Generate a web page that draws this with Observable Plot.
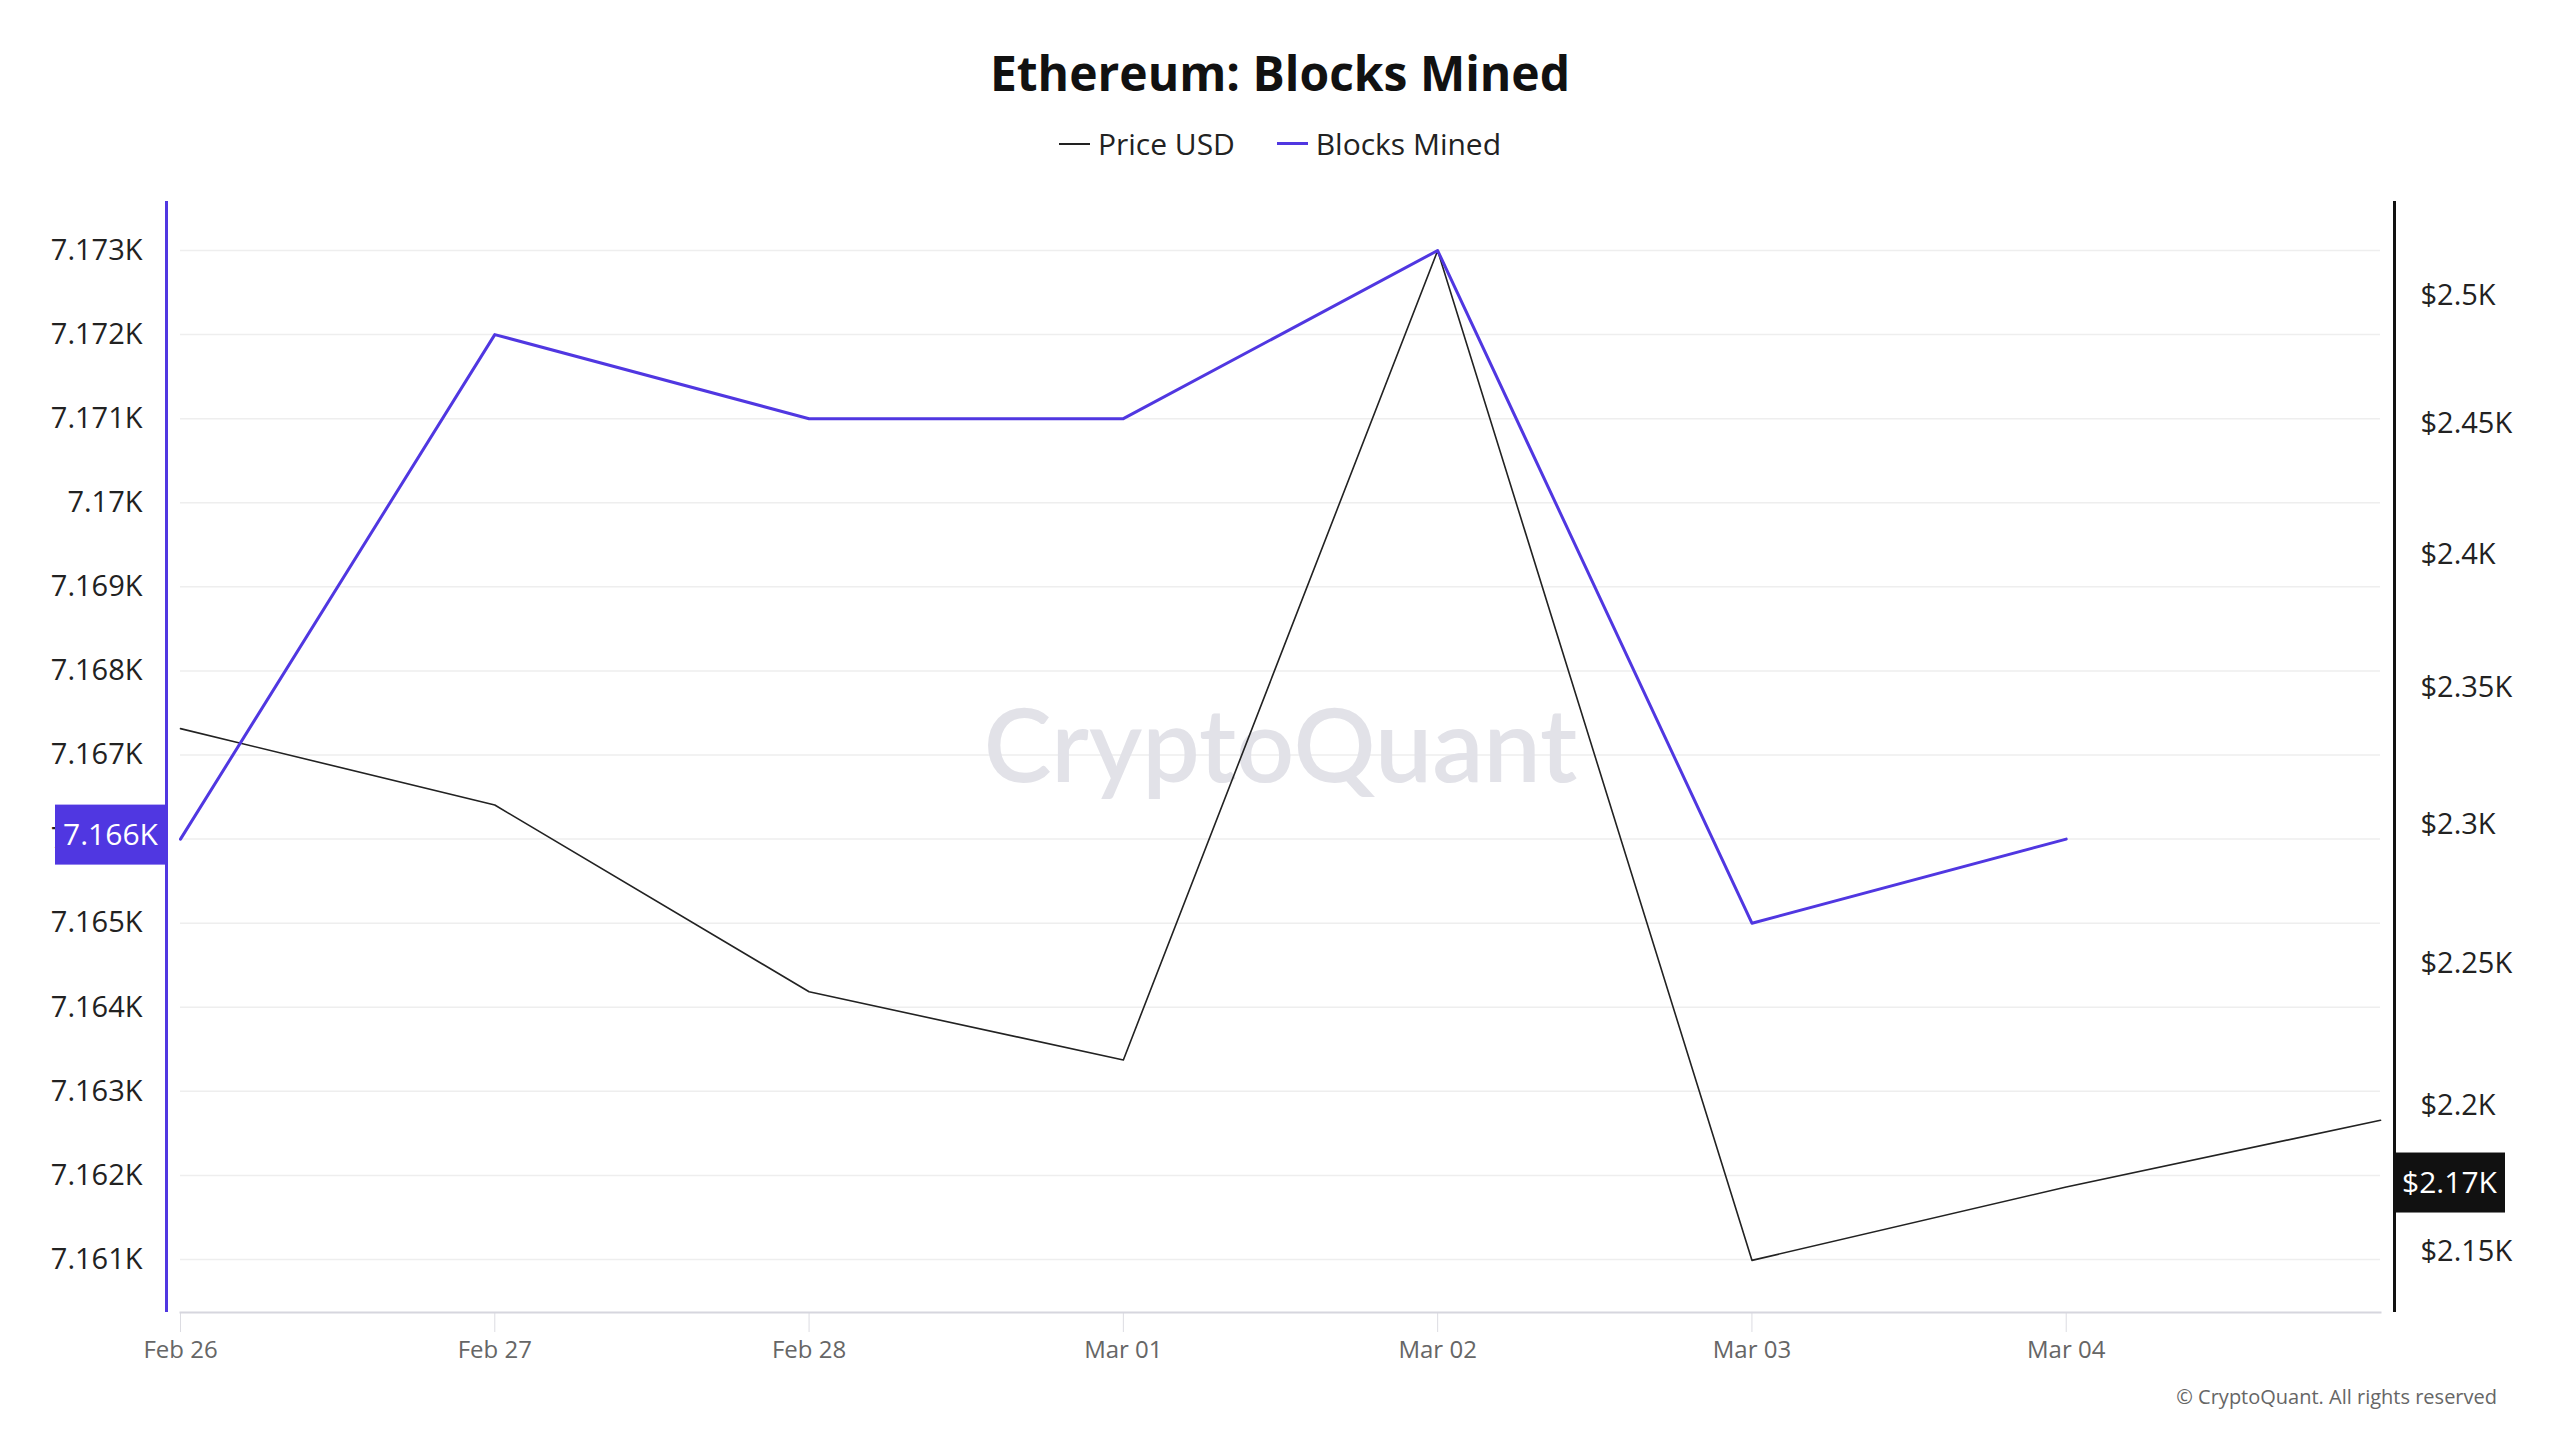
<!DOCTYPE html>
<html>
<head>
<meta charset="utf-8">
<script src="https://cdn.jsdelivr.net/npm/d3@7"></script>
<script src="https://cdn.jsdelivr.net/npm/@observablehq/plot@0.6"></script>
<style>
  body { margin: 0; background: #fff; font-family: "Open Sans", sans-serif; width: 2560px; height: 1440px; overflow: hidden; position: relative; }
  #header { height: 180px; position: relative; }
  #title { position: absolute; left: 0; width: 2560px; top: 43px; line-height: 60px; text-align: center; font-size: 48px; font-weight: 700; color: #111; }
  #legend { position: absolute; left: 0; width: 2560px; top: 124px; line-height: 40px; text-align: center; font-size: 30px; color: #222; }
  .item { display: inline-flex; align-items: center; margin: 0 17px; }
  .sw { display: inline-block; width: 31px; margin-right: 8px; }
  #caption { position: absolute; right: 63px; top: 1383px; font-size: 20px; color: #666; }
</style>
</head>
<body>
<div id="header">
  <div id="title">Ethereum: Blocks Mined</div>
  <div id="legend" style="top:114px">
    <span class="item"><span class="sw" style="border-top:2px solid #222"></span>Price USD</span>
    <span class="item"><span class="sw" style="border-top:3px solid #5037e1"></span>Blocks Mined</span>
  </div>
</div>
<div id="chart"></div>
<div id="caption">© CryptoQuant. All rights reserved</div>
<script>
// ---- data ----
const blockDates = ["2025-02-26", "2025-02-27", "2025-02-28", "2025-03-01", "2025-03-02", "2025-03-03", "2025-03-04"];
const blocksMined = [7166, 7172, 7171, 7171, 7173, 7165, 7166];
const priceDates = ["2025-02-26", "2025-02-27", "2025-02-28", "2025-03-01", "2025-03-02", "2025-03-03", "2025-03-04", "2025-03-05"];
const priceUSD = [2335, 2307, 2240, 2216, 2518, 2147, 2172, 2195];
const xTickDates = ["2025-02-26", "2025-02-27", "2025-02-28", "2025-03-01", "2025-03-02", "2025-03-03", "2025-03-04"];
const blockTicks = [7161, 7162, 7163, 7164, 7165, 7166, 7167, 7168, 7169, 7170, 7171, 7172, 7173];
const priceTicks = [2150, 2200, 2250, 2300, 2350, 2400, 2450, 2500];

const PURPLE = "#5037e1";
const parse = s => new Date(s + "T00:00:00Z");

const blocksData = blockDates.map((d, i) => ({date: parse(d), value: blocksMined[i]}));
const yDomain = [7160.37, 7173.583];
const priceToY = d3.scaleLog().domain([2129.4, 2537.6]).range(yDomain);
const priceData = priceDates.map((d, i) => ({date: parse(d), price: priceUSD[i], y: priceToY(priceUSD[i])}));

const xDomain = [parse(priceDates[0]), parse(priceDates[priceDates.length - 1])];

function tag(value, label, side, fill) {
  return (index, scales, values, dimensions) => {
    const {marginLeft, marginRight, width} = dimensions;
    const y = scales.y(value) - 4;
    const w = 111, h = 60;
    const x0 = side === "left" ? marginLeft - 14 - w : width - marginRight + 14;
    const g = d3.create("svg:g");
    g.append("rect").attr("x", x0).attr("y", y - h / 2).attr("width", w).attr("height", h).attr("fill", fill);
    g.append("text").attr("x", x0 + w / 2).attr("y", y).attr("dy", "0.35em")
      .attr("text-anchor", "middle").attr("fill", "#fff").attr("font-size", 30)
      .attr("font-family", "Open Sans, sans-serif").text(label);
    return g.node();
  };
}

const lastBlocks = blocksMined[blocksMined.length - 1];
const lastPriceIdx = blockDates.length - 1;
const lastPrice = priceUSD[lastPriceIdx];

const chart = Plot.plot({
  width: 2560,
  height: 1260,
  marginTop: 21,
  marginBottom: 128,
  marginLeft: 180,
  marginRight: 180,
  style: {fontFamily: "Open Sans, sans-serif", background: "#fff", overflow: "visible"},
  x: {type: "utc", domain: xDomain},
  y: {domain: yDomain},
  marks: [
    Plot.gridY(blockTicks, {stroke: "#eeeeee", strokeOpacity: 1, strokeWidth: 1.5}),
    Plot.text(["CryptoQuant"], {frameAnchor: "middle", fontSize: 102, fontWeight: 600, fill: "#e2e2e8", dy: -8, fontFamily: "Lato, sans-serif"}),
    Plot.axisY(blockTicks, {anchor: "left", tickSize: 0, tickPadding: 38, fontSize: 29, fill: "#222", tickFormat: d => d3.format("")(d / 1000) + "K"}),
    Plot.axisY(priceTicks.map(p => priceToY(p)), {anchor: "right", tickSize: 0, tickPadding: 40, fontSize: 29, fill: "#222",
      tickFormat: d => "$" + (Math.round(priceToY.invert(d) / 10) * 10 / 1000) + "K"}),
    Plot.axisX(xTickDates.map(parse), {anchor: "bottom", tickSize: 20, tickPadding: 8, stroke: "#dcdce2", fontSize: 24, fill: "#666", tickFormat: d3.utcFormat("%b %d")}),
    Plot.frame({anchor: "bottom", stroke: "#d6d6de", strokeWidth: 2}),
    Plot.ruleX([xDomain[0]], {dx: -14, stroke: PURPLE, strokeWidth: 3}),
    Plot.ruleX([xDomain[1]], {dx: 14, stroke: "#111", strokeWidth: 3}),
    Plot.line(priceData, {x: "date", y: "y", stroke: "#222", strokeWidth: 1.6}),
    Plot.line(blocksData, {x: "date", y: "value", stroke: PURPLE, strokeWidth: 3}),
    tag(lastBlocks, d3.format("")(lastBlocks / 1000) + "K", "left", PURPLE),
    tag(priceToY(lastPrice), "$" + (Math.round(lastPrice / 10) / 100) + "K", "right", "#111")
  ]
});
document.getElementById("chart").appendChild(chart);
</script>
</body>
</html>
